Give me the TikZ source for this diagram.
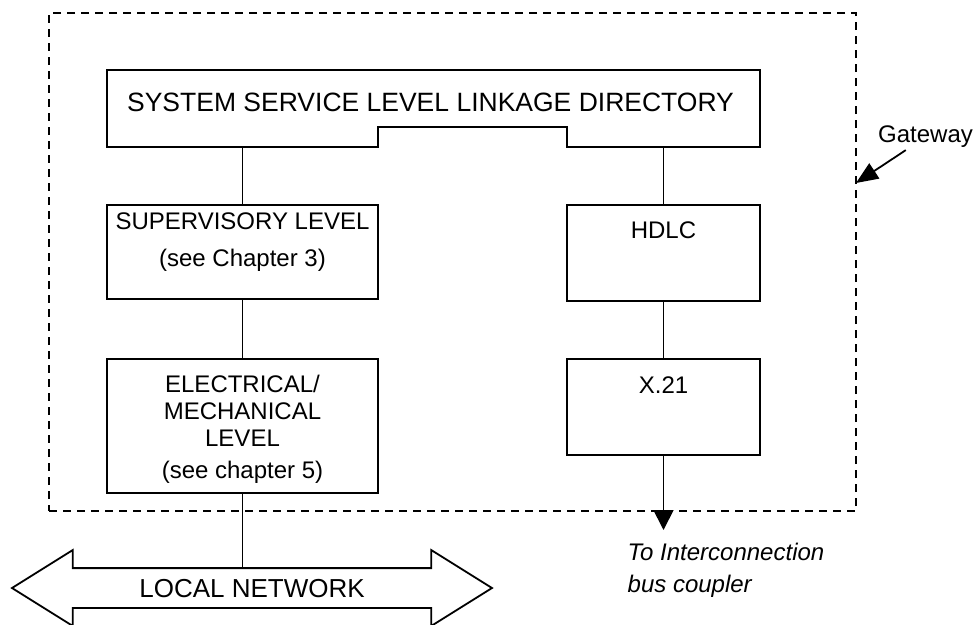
\documentclass[tikz,border=0pt]{standalone}
\usepackage{fontspec}
\setmainfont{Liberation Sans}
\usetikzlibrary{shapes.arrows, arrows.meta, positioning}
\tikzset{
    box/.style={rectangle, draw, line width=1.8pt, inner sep=0pt, outer sep=0pt},
    boxtext/.style={align=center, inner sep=0pt, font=\fontsize{24}{27}\selectfont},
    frame/.style={rectangle, draw, line width=1.9pt, dash pattern=on 8pt off 6pt, inner sep=0pt, outer sep=0pt},
    link/.style={line width=1.8pt},
    arrow/.style={line width=1.8pt, -{Triangle[length=20pt, width=20pt]}},
    bus/.style={double arrow, draw, line width=1.8pt, double arrow tip angle=64, double arrow head extend=18pt, minimum height=480pt, inner xsep=0pt, inner ysep=9.5pt, text height=19pt, text depth=0pt, font=\fontsize{26}{30}\selectfont}
}

\begin{document}
\begin{tikzpicture}[x=1pt, y=-1pt]
    \useasboundingbox (0,0) rectangle (974,624);

    % Gateway frame
    \node (gw) [frame, minimum width=807pt, minimum height=498pt] at (452.5,262) {};

    % Boxes
    \node (ssld) [minimum width=653pt, minimum height=77pt, inner sep=0pt, outer sep=0pt] at (433.5,108.5) {};
    \node (sup) [box, minimum width=271pt, minimum height=94pt, below right=58pt and 0pt of ssld.south west] {};
    \node (elec) [box, minimum width=271pt, minimum height=134pt, below=60pt of sup] {};
    \node (hdlc) [box, minimum width=193pt, minimum height=96pt, below left=58pt and 0pt of ssld.south east] {};
    \node (x21) [box, minimum width=193pt, minimum height=96pt, below=58pt of hdlc] {};

    % Outline of the directory box with its notch
    \draw [link] (ssld.north west) -- (ssld.north east) -- (ssld.south east) -- (hdlc.west |- ssld.south) -- ++(0,-20) -| (sup.east |- ssld.south) -- (ssld.south west) -- cycle;

    % Texts
    \node (ssld-t) [boxtext, font=\fontsize{26.5}{30}\selectfont, below=23pt of ssld.north, xshift=-3pt] {SYSTEM SERVICE LEVEL LINKAGE DIRECTORY};
    \node (sup-t) [boxtext, below=8pt of sup.north] {SUPERVISORY LEVEL\\[10pt](see Chapter 3)};
    \node (elec-t) [boxtext, below=16pt of elec.north] {ELECTRICAL/\\MECHANICAL\\LEVEL\\[5pt](see chapter 5)};
    \node (hdlc-t) [boxtext, below=17pt of hdlc.north] {HDLC};
    \node (x21-t) [boxtext, below=18pt of x21.north] {X.21};

    % Local network
    \node (lan) [bus] at (252,588) {LOCAL NETWORK\hspace{20pt}};

    % Bus coupler
    \coordinate [below=75pt of x21.south] (cpl);
    \node (cpl-t) [below right=13pt and -36pt of cpl, align=left, inner sep=0pt, font=\fontsize{24}{32}\selectfont\itshape] {To Interconnection\\bus coupler};

    % Gateway label
    \node (gw-t) [anchor=north west, inner sep=2pt, font=\fontsize{24}{27}\selectfont] at (876,124) {Gateway};
    \coordinate (gw-tip) at ([yshift=-170pt]gw.north east);

    % Lines
    \draw [link] (sup.north) -- (sup.north |- ssld.south);
    \draw [link] (hdlc.north) -- (hdlc.north |- ssld.south);
    \draw [link] (sup) -- (elec);
    \draw [link] (hdlc) -- (x21);
    \draw [link] (elec) -- (elec.south |- lan.north);
    \draw [arrow] (x21) -- (cpl);
    \draw [arrow, -{Triangle[length=22pt, width=18pt]}] (gw-t) -- (gw-tip);

\end{tikzpicture}
\end{document}
